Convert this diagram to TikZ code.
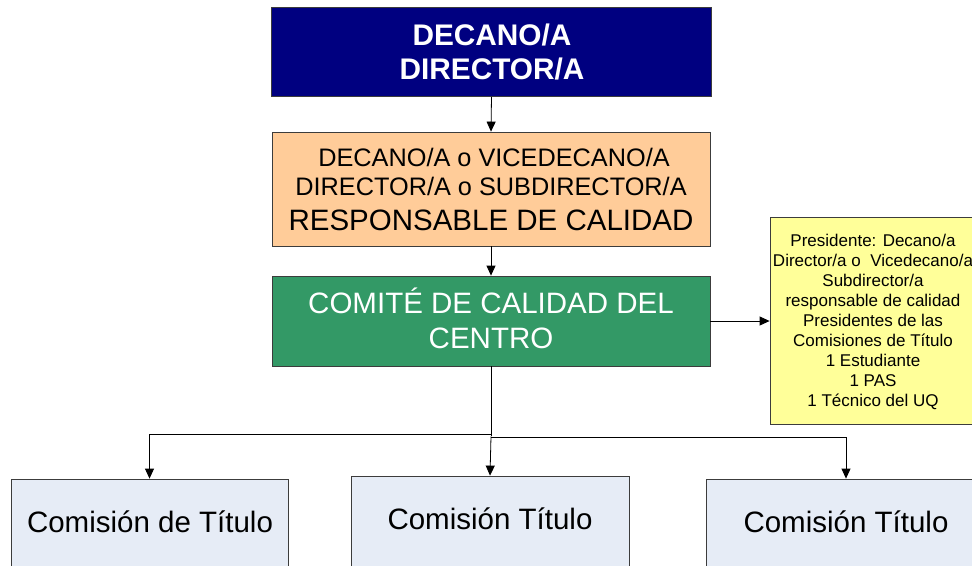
\documentclass[tikz,border=0pt]{standalone}
\usepackage{fontspec}
\setmainfont{Liberation Sans}
\usetikzlibrary{arrows.meta,calc}
\definecolor{navyblue}{RGB}{0,0,128}
\definecolor{peach}{RGB}{255,204,153}
\definecolor{excelgreen}{RGB}{51,153,102}
\definecolor{paleyellow}{RGB}{255,255,153}
\definecolor{paleblue}{RGB}{230,236,246}
\definecolor{edgegray}{RGB}{60,60,60}
\tikzset{
  box/.style={draw=edgegray, line width=0.8pt, rectangle, inner sep=0pt, align=center},
  conn/.style={line width=0.8pt, -{Triangle[length=10pt,width=9pt]}},
  plainconn/.style={line width=0.8pt},
  labeltxt/.style={inner sep=0pt, anchor=base}
}
\begin{document}
\begin{tikzpicture}[x=1pt,y=-1pt]
\useasboundingbox (0,0) rectangle (972,565);
\clip (0,0) rectangle (972,565);
\fill[white] (0,0) rectangle (972,565);

% boxes
\node[box, fill=navyblue, minimum width=440pt, minimum height=89pt] (dec) at (491.5,52) {};
\node[box, fill=peach, minimum width=438pt, minimum height=114pt] (resp) at (491,189) {};
\node[box, fill=excelgreen, minimum width=438pt, minimum height=90pt] (comite) at (491,321) {};
\node[box, fill=paleyellow, minimum width=208pt, minimum height=207pt] (pres) at (874,320.5) {};
\node[box, fill=paleblue, minimum width=277pt, minimum height=120pt] (c1) at (149.5,539) {};
\node[box, fill=paleblue, minimum width=278pt, minimum height=120pt] (c2) at (490,536) {};
\node[box, fill=paleblue, minimum width=280pt, minimum height=120pt] (c3) at (846,539) {};

% texts
\node[labeltxt, text=white, font=\fontsize{29.8}{34}\selectfont\bfseries] (d1) at (492,45) {DECANO/A};
\node[labeltxt, text=white, font=\fontsize{29.8}{34}\selectfont\bfseries] (d2) at (492,79) {DIRECTOR/A};
\node[labeltxt, font=\fontsize{25.3}{29}\selectfont] (r1) at (494,166) {DECANO/A o VICEDECANO/A};
\node[labeltxt, font=\fontsize{25.3}{29}\selectfont] (r2) at (491,195) {DIRECTOR/A o SUBDIRECTOR/A};
\node[labeltxt, font=\fontsize{29.5}{35}\selectfont] (r3) at (491,230) {RESPONSABLE DE CALIDAD};
\node[labeltxt, text=white, font=\fontsize{29.5}{35}\selectfont] (g1) at (491,313) {COMITÉ DE CALIDAD DEL};
\node[labeltxt, text=white, font=\fontsize{29.5}{35}\selectfont] (g2) at (491,348) {CENTRO};
\node[labeltxt, font=\fontsize{29.5}{35}\selectfont] (t1) at (150,532) {Comisión de Título};
\node[labeltxt, font=\fontsize{29.5}{35}\selectfont] (t2) at (490,529) {Comisión Título};
\node[labeltxt, font=\fontsize{29.5}{35}\selectfont] (t3) at (846,532) {Comisión Título};
\node[inner sep=0pt, align=center, anchor=north, font=\fontsize{17}{20}\selectfont] (ptxt) at (873,234)
  {Presidente: Decano/a\\Director/a o\ \ Vicedecano/a\\Subdirector/a\\responsable de calidad\\Presidentes de las\\Comisiones de Título\\1 Estudiante\\1 PAS\\1 Técnico del UQ};

% connectors
\draw[conn] (dec.south) -- (resp.north);
\draw[conn] (resp.south) -- (comite.north);
\draw[conn] (comite.east) -- (pres.west |- comite.east);
\draw[plainconn] (comite.south) -- ++(0,70) coordinate (junc);
\draw[conn] (junc |- 0,434) -| (c1.north);
\draw[conn] (junc) -- (c2.north);
\draw[conn] (junc |- 0,437) -| (c3.north);
\end{tikzpicture}
\end{document}
